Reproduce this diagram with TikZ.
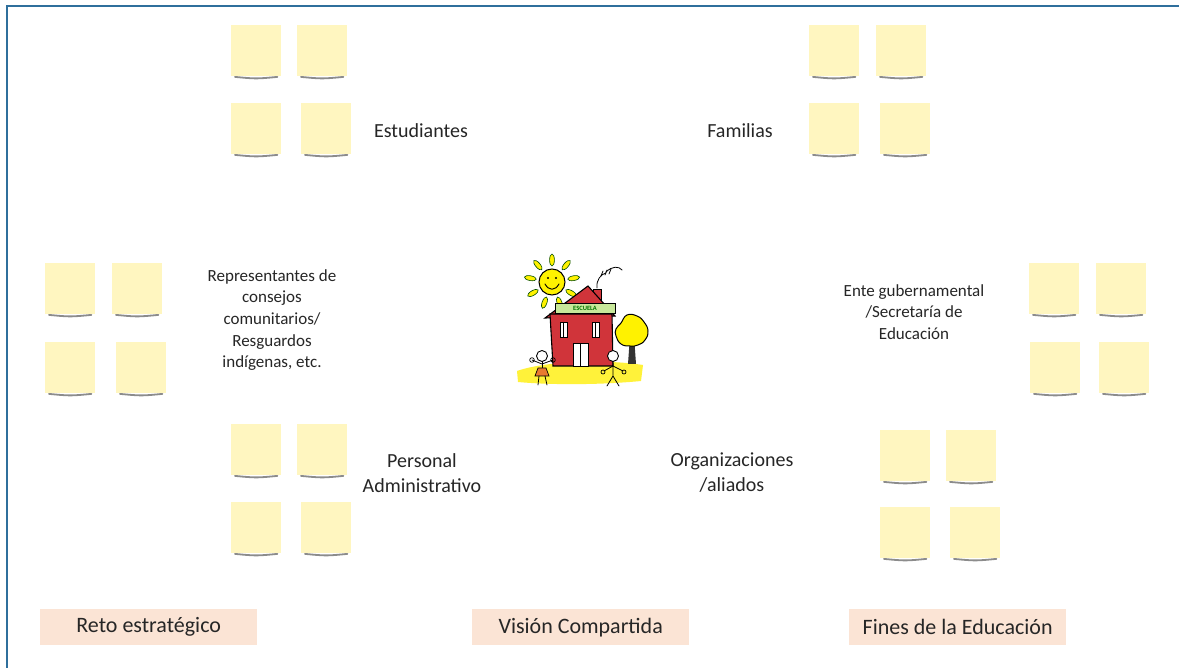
\documentclass[tikz,border=0pt]{standalone}
\usepackage{fontspec}
\setmainfont{Carlito}
\begin{document}
\begin{tikzpicture}[x=1pt,y=-1pt]
\definecolor{noteyellow}{HTML}{FFF6C0}
\definecolor{framblue}{HTML}{2F6F9C}
\definecolor{peach}{HTML}{FBE4D5}
\definecolor{housered}{HTML}{D0343A}
\definecolor{signgreen}{HTML}{C8E89A}
\definecolor{sunyellow}{HTML}{FFF200}
\definecolor{groundyellow}{HTML}{FFF23A}
\definecolor{skirt}{HTML}{E87A30}
\tikzset{
  sticky/.style={fill=noteyellow, draw=none, anchor=north west, minimum width=50pt, minimum height=51pt, inner sep=0pt},
  stickyshadow/.style={draw=black!45, line width=1.8pt, line cap=round},
  lbl/.style={align=center, font=\fontsize{20}{25}\selectfont, text=black!85},
  lblsmall/.style={align=center, font=\fontsize{17}{21.7}\selectfont, text=black!85},
  tagbox/.style={fill=peach, draw=none, minimum width=217pt, minimum height=36pt, anchor=north west, inner sep=0pt, font=\fontsize{22}{26}\selectfont, text=black!85},
  ink/.style={draw=black, line width=1pt, line cap=round, line join=round}
}
\newcommand\stickynote[3]{%
  \node[sticky] (#1) at (#2,#3) {};
  \draw[stickyshadow] ([xshift=4pt,yshift=-0.5pt]#1.south west) .. controls ([yshift=-2.5pt]#1.south) .. ([xshift=-4pt,yshift=-0.5pt]#1.south east);}
\useasboundingbox (0,0) rectangle (1179,668);
\fill[white] (0,0) rectangle (1179,668);
% frame
\coordinate (fbl) at (7,668);
\coordinate (ftl) at (7,6);
\coordinate (ftr) at (1179,6);
\draw[framblue, line width=2.2pt] (fbl) -- (ftl) -- (ftr);
% sticky notes: Estudiantes
\stickynote{e1}{231}{25}\stickynote{e2}{297}{25}
\stickynote{e3}{231}{103}\stickynote{e4}{301}{103}
% Familias
\stickynote{f1}{809}{25}\stickynote{f2}{876}{25}
\stickynote{f3}{809}{103}\stickynote{f4}{880}{103}
% Representantes
\stickynote{r1}{45}{263}\stickynote{r2}{112}{263}
\stickynote{r3}{45}{342}\stickynote{r4}{116}{342}
% Ente
\stickynote{g1}{1029}{263}\stickynote{g2}{1096}{263}
\stickynote{g3}{1030}{342}\stickynote{g4}{1099}{342}
% Personal
\stickynote{p1}{231}{424}\stickynote{p2}{297}{424}
\stickynote{p3}{231}{502}\stickynote{p4}{301}{502}
% Organizaciones
\stickynote{o1}{880}{430}\stickynote{o2}{946}{430}
\stickynote{o3}{880}{507}\stickynote{o4}{950}{507}
% labels
\node[lbl] (estud) at (421,131) {Estudiantes};
\node[lbl] (famil) at (740,131) {Familias};
\node[lblsmall] (repre) at (272,320) {Representantes de\\consejos\\comunitarios/\\Resguardos\\indígenas, etc.};
\node[lblsmall] (ente) at (914,312) {Ente gubernamental\\/Secretaría de\\Educación};
\node[lbl] (perso) at (422,473) {Personal\\Administrativo};
\node[lbl] (organ) at (732,473) {Organizaciones\\/aliados};
% bottom tags
\node[tagbox] (reto) at (40,609) {Reto estratégico};
\node[tagbox] (vision) at (472,609) {Visión Compartida};
\node[tagbox] (fines) at (849,609) {Fines de la Educación};
% ---- school clip-art ----
% ground
\fill[groundyellow] (517,371) .. controls (545,361) and (605,359) .. (643,365) -- (641,381) .. controls (600,385) and (550,385) .. (518,382) -- cycle;
% sun rays
\foreach \a in {10,50,...,330}{
  \fill[sunyellow, draw=black!70!green, line width=0.6pt, rotate around={\a:(552,282)}] (552,282) ++(22,0) ellipse [x radius=6, y radius=2.4];
}
% sun
\filldraw[fill=sunyellow, draw=black, line width=1pt] (552,282) circle [radius=13];
\fill (548,278) circle [radius=1.2];
\fill (556,278) circle [radius=1.2];
\draw[ink, line width=0.9pt] (545,284) .. controls (549,291) and (555,291) .. (559,284);
% smoke
\draw[ink, line width=0.8pt] (597,288) .. controls (596,280) and (601,274) .. (606,273);
\draw[ink, line width=0.8pt] (601,276) -- (603,271) (605,275) -- (607,270) (609,274) -- (611,269);
\draw[ink, line width=0.8pt] (606,272) .. controls (612,266) and (619,266) .. (622,270);
% chimney
\filldraw[fill=housered, draw=black, line width=0.9pt] (593,289) rectangle (601,302);
% roof
\filldraw[fill=housered, draw=black, line width=1.1pt] (545,318) -- (588,286) -- (615,316) -- cycle;
% body
\filldraw[fill=housered, draw=black, line width=1.1pt] (550,314) -- (612,314) -- (613,366) -- (553,366) -- cycle;
% sign
\node[fill=signgreen, draw=black, line width=0.8pt, minimum width=60pt, minimum height=10pt, inner sep=0pt, font=\fontsize{6.5}{7}\selectfont\bfseries, text=green!45!black] (sign) at (585,308) {ESCUELA};
% windows
\foreach \wx in {560,592}{
  \filldraw[fill=white, draw=black, line width=0.8pt] (\wx,322) rectangle ++(7,15);
  \draw[black, line width=0.6pt] (\wx+3.5,322) -- (\wx+3.5,337);
}
% door
\filldraw[fill=white, draw=black, line width=0.9pt] (573,343) rectangle (588,366);
\draw[black, line width=0.7pt] (580.5,343) -- (580.5,366);
% tree trunk
\fill[black!80] (630,336) -- (634,336) -- (636,364) -- (628,364) -- cycle;
% tree crown
\filldraw[fill=sunyellow, draw=black, line width=1pt] plot[smooth cycle, tension=0.8] coordinates {(621,323) (627,315) (637,316) (644,322) (648,331) (645,340) (638,345) (630,346) (621,344) (616,336) (616,329)};
% left stick figure
\filldraw[fill=white, draw=black, line width=0.9pt] (542,356) circle [radius=5.5];
\draw[ink, line width=0.8pt] (542,361.5) -- (542,369);
\filldraw[fill=skirt, draw=black, line width=0.7pt] (538,368) -- (546,368) -- (549,376) -- (535,376) -- cycle;
\draw[ink, line width=0.8pt] (542,364) -- (532,360) (542,364) -- (553,360);
\draw[ink, line width=0.8pt] (539,376) -- (538,385) (545,376) -- (547,385);
\draw[ink, line width=0.7pt] (532,360) circle [radius=2.3] (553,360) circle [radius=2.3];
% right stick figure
\filldraw[fill=white, draw=black, line width=0.9pt] (613,356) circle [radius=5.5];
\draw[ink, line width=0.8pt] (613,361.5) -- (613,376) (613,376) -- (607,386) (613,376) -- (619,386);
\draw[ink, line width=0.8pt] (613,366) -- (604,371) (613,366) -- (623,371);
\draw[ink, line width=0.7pt] (603,372) circle [radius=2] (624,372) circle [radius=2];
\end{tikzpicture}
\end{document}
